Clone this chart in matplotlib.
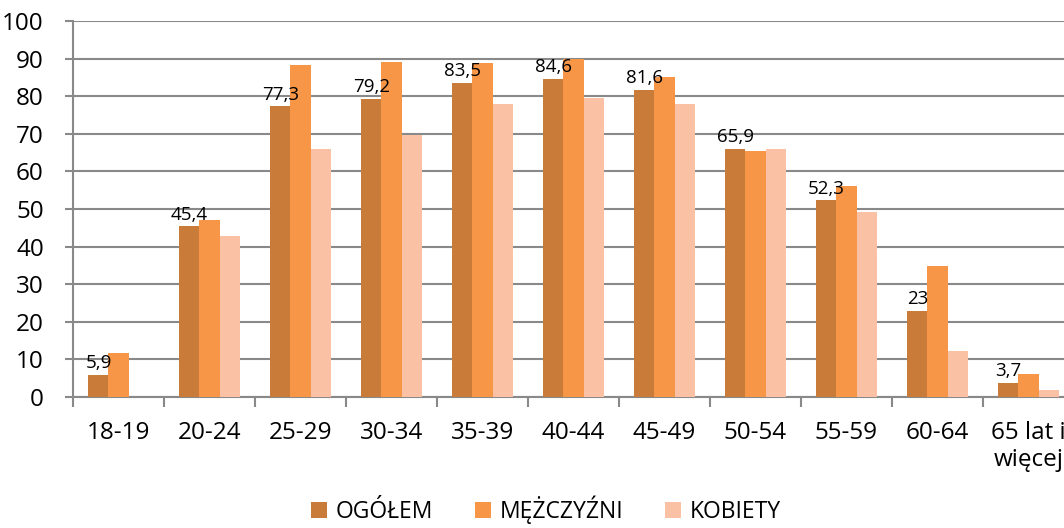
import numpy as np
import matplotlib.pyplot as plt
from matplotlib.patches import Patch

plt.rcParams['font.family'] = ['Open Sans', 'DejaVu Sans']

categories = ["18-19", "20-24", "25-29", "30-34", "35-39", "40-44",
              "45-49", "50-54", "55-59", "60-64", "65 lat i\nwięcej"]
series_names = ["OGÓŁEM", "MĘŻCZYŹNI", "KOBIETY"]
ogolem = [5.9, 45.4, 77.3, 79.2, 83.5, 84.6, 81.6, 65.9, 52.3, 23.0, 3.7]
mezczyzni = [11.6, 47.0, 88.3, 89.1, 88.9, 89.8, 85.0, 65.3, 56.0, 34.8, 6.2]
kobiety = [0.0, 42.7, 66.0, 69.6, 78.0, 79.6, 78.0, 66.0, 49.3, 12.3, 1.8]
ogolem_labels = ["5,9", "45,4", "77,3", "79,2", "83,5", "84,6",
                 "81,6", "65,9", "52,3", "23", "3,7"]

colors = ["#C97B3A", "#F79646", "#FAC1A5"]
grid_col = "#898989"

fig = plt.figure(figsize=(10.64, 5.28), dpi=100)
# axes runs past the right edge, as in the original
ax = fig.add_axes([73 / 1064, 131 / 528, 1001 / 1064, 376 / 528])

x = np.arange(len(categories)) + 0.5
w = 0.22
for i, (vals, c) in enumerate(zip([ogolem, mezczyzni, kobiety], colors)):
    bars = ax.bar(x + (i - 1) * w, vals, width=w, color=c, zorder=3)
    if i == 0:
        for b, lab in zip(bars, ogolem_labels):
            ax.annotate(lab, xy=(b.get_x() + b.get_width() / 2, b.get_height()),
                        xytext=(0, 2), textcoords="offset points",
                        ha="center", va="bottom", fontsize=13.5, zorder=4)

ax.set_xlim(0, len(categories))
ax.set_ylim(0, 100)
ax.set_yticks(range(0, 101, 10))
ax.yaxis.grid(True, color=grid_col, linewidth=1.5, zorder=0)
ax.tick_params(axis="y", labelsize=17.5, length=6, width=1.5, color=grid_col, pad=15)

ax.set_xticks(np.arange(len(categories) + 1))
ax.set_xticklabels([])
ax.set_xticks(x, minor=True)
ax.set_xticklabels(categories, minor=True, fontsize=17.5)
ax.tick_params(axis="x", which="major", length=7, width=1.5, color=grid_col)
ax.tick_params(axis="x", which="minor", length=0, pad=17)

for s in ["top", "right"]:
    ax.spines[s].set_visible(False)
for s in ["left", "bottom"]:
    ax.spines[s].set_color(grid_col)
    ax.spines[s].set_linewidth(1.5)

handles = [Patch(facecolor=c, label=n) for c, n in zip(colors, series_names)]
fig.legend(handles=handles, loc="center", bbox_to_anchor=(546 / 1064, 18 / 528),
           ncol=3, frameon=False, fontsize=16.5, handlelength=0.7, handleheight=0.7,
           handletextpad=0.4, columnspacing=1.8)

fig.savefig("out.png", dpi=100)
